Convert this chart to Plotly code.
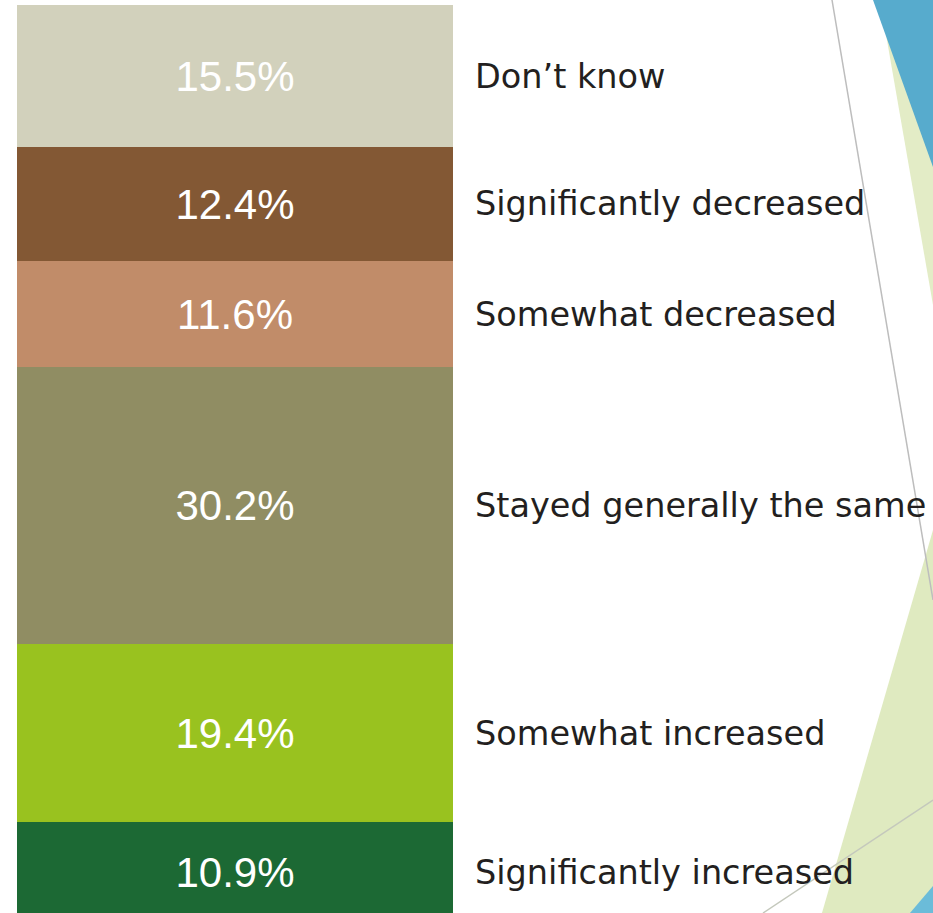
import numpy as np
import plotly.graph_objects as go

# bottom-to-top stacking order
categories = ["Significantly increased", "Somewhat increased", "Stayed generally the same",
              "Somewhat decreased", "Significantly decreased", "Don\u2019t know"]
shares = [10.9, 19.4, 30.2, 11.6, 12.4, 15.5]
colors = ["#1c6934", "#99c21f", "#908d63", "#c18c69", "#835834", "#d2d1bc"]

W, H = 933, 913


def px(x, y):
    # pixel position -> paper coords (margins are zero)
    return x / W, 1 - y / H


def poly(points, color):
    pts = [px(x, y) for x, y in points]
    path = "M " + " L ".join(f"{a:.4f},{b:.4f}" for a, b in pts) + " Z"
    return dict(type="path", path=path, xref="paper", yref="paper",
                fillcolor=color, line={"width": 0}, layer="below")


def seg(x0, y0, x1, y1, color):
    a0, b0 = px(x0, y0)
    a1, b1 = px(x1, y1)
    return dict(type="line", x0=a0, y0=b0, x1=a1, y1=b1, xref="paper", yref="paper",
                line={"color": color, "width": 1.5}, layer="below")


fig = go.Figure()
for cat, val, col in zip(categories, shares, colors):
    fig.add_trace(go.Bar(
        x=[0], y=[val], name=cat, width=1, marker={"color": col, "line": {"width": 0}},
        text=[f"{val:.1f}%"], textposition="inside", insidetextanchor="middle",
        textangle=0, constraintext="none",
        textfont={"family": "Liberation Sans, Arial", "size": 42, "color": "white"},
        hoverinfo="skip",
    ))

mids = np.cumsum(shares) - np.array(shares) / 2
annotations = [
    dict(x=473 / W, xref="paper", y=m, yref="y", text=c, showarrow=False, xanchor="left",
         yanchor="middle", font={"family": "DejaVu Sans, sans-serif", "size": 33.5, "color": "#231f20"})
    for c, m in zip(categories, mids)
]

shapes = [
    poly([(880, 0), (933, 0), (933, 305)], "#e3ecc6"),
    poly([(873, 0), (933, 0), (933, 167)], "#57abcd"),
    poly([(933, 530), (822, 913), (933, 913)], "#dfeac0"),
    poly([(910, 913), (933, 913), (933, 886)], "#6bbcd9"),
    seg(832, 0, 933, 600, "#bdbdbd"),
    seg(763, 913, 933, 800, "#c4c8bc"),
]

ppu = 9.17  # pixels per percent
top = 100 + 5 / ppu
fig.update_layout(
    width=W, height=H, margin={"l": 0, "r": 0, "t": 0, "b": 0},
    barmode="stack", showlegend=False, bargap=0,
    paper_bgcolor="white", plot_bgcolor="white",
    xaxis={"visible": False, "range": [-0.5 - 17 / 436, 0.5 + 480 / 436], "fixedrange": True},
    yaxis={"visible": False, "range": [top - H / ppu, top], "fixedrange": True},
    annotations=annotations, shapes=shapes,
)
fig.write_html("out.html", config={"displayModeBar": False},
               post_script="document.body.style.margin='0';")
